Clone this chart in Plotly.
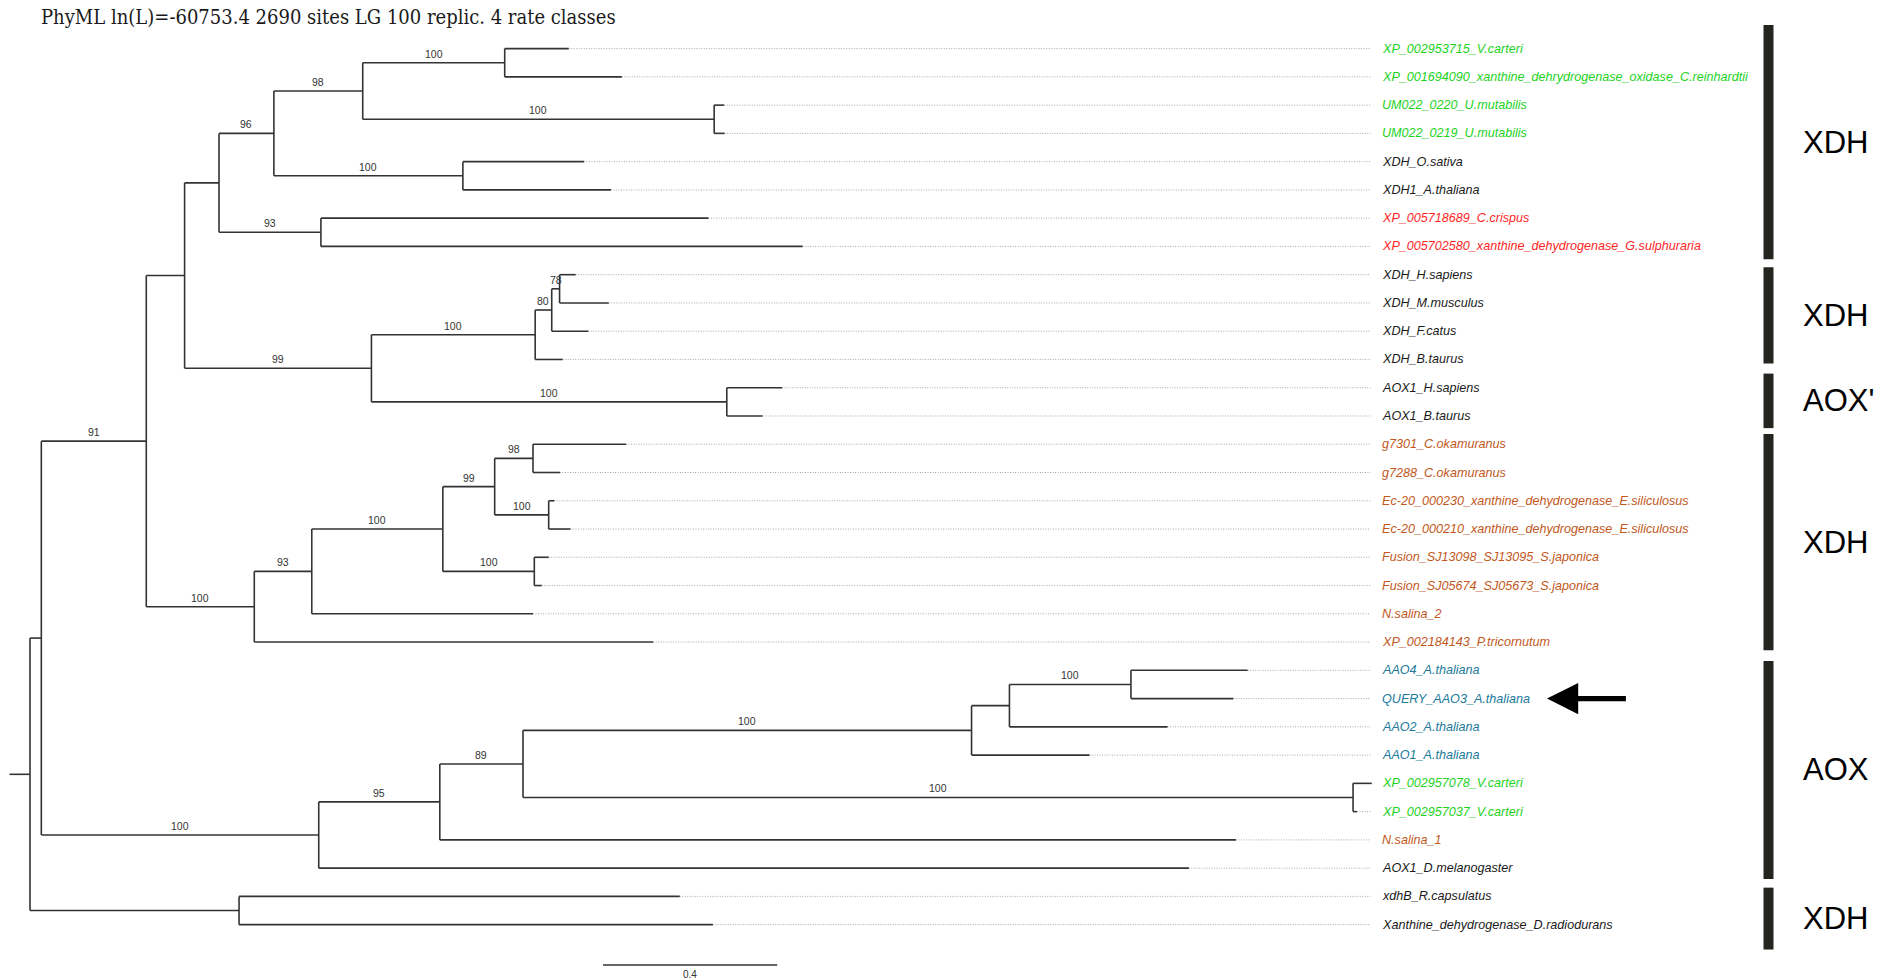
import plotly.graph_objects as go

# ---------------- data ----------------
title_text = "PhyML ln(L)=-60753.4 2690 sites LG 100 replic. 4 rate classes"

taxa = [
    "XP_002953715_V.carteri",
    "XP_001694090_xanthine_dehrydrogenase_oxidase_C.reinhardtii",
    "UM022_0220_U.mutabilis",
    "UM022_0219_U.mutabilis",
    "XDH_O.sativa",
    "XDH1_A.thaliana",
    "XP_005718689_C.crispus",
    "XP_005702580_xanthine_dehydrogenase_G.sulphuraria",
    "XDH_H.sapiens",
    "XDH_M.musculus",
    "XDH_F.catus",
    "XDH_B.taurus",
    "AOX1_H.sapiens",
    "AOX1_B.taurus",
    "g7301_C.okamuranus",
    "g7288_C.okamuranus",
    "Ec-20_000230_xanthine_dehydrogenase_E.siliculosus",
    "Ec-20_000210_xanthine_dehydrogenase_E.siliculosus",
    "Fusion_SJ13098_SJ13095_S.japonica",
    "Fusion_SJ05674_SJ05673_S.japonica",
    "N.salina_2",
    "XP_002184143_P.tricornutum",
    "AAO4_A.thaliana",
    "QUERY_AAO3_A.thaliana",
    "AAO2_A.thaliana",
    "AAO1_A.thaliana",
    "XP_002957078_V.carteri",
    "XP_002957037_V.carteri",
    "N.salina_1",
    "AOX1_D.melanogaster",
    "xdhB_R.capsulatus",
    "Xanthine_dehydrogenase_D.radiodurans",
]
taxon_group = [
    "chlorophyte", "chlorophyte", "chlorophyte", "chlorophyte",
    "other", "other", "rhodophyte", "rhodophyte",
    "other", "other", "other", "other", "other", "other",
    "stramenopile", "stramenopile", "stramenopile", "stramenopile",
    "stramenopile", "stramenopile", "stramenopile", "stramenopile",
    "arabidopsis_aao", "arabidopsis_aao", "arabidopsis_aao", "arabidopsis_aao",
    "chlorophyte", "chlorophyte", "stramenopile", "other", "other", "other",
]
taxon_parent = [
    "n7", "n7", "n8", "n8", "n9", "n9", "n10", "n10",
    "n14", "n14", "n13", "n12", "n15", "n15",
    "n20", "n20", "n21", "n21", "n22", "n22", "n17", "n16",
    "n28", "n28", "n27", "n26", "n29", "n29", "n24", "n23", "n30", "n30",
]
taxon_length = [
    0.147, 0.269, 0.023, 0.024, 0.278, 0.340, 0.890, 1.106,
    0.037, 0.113, 0.084, 0.063, 0.127, 0.082,
    0.214, 0.062, 0.013, 0.050, 0.033, 0.017, 0.508, 0.916,
    0.268, 0.235, 0.363, 0.271, 0.043, 0.009, 1.828, 1.998, 1.012, 1.088,
]

node_names = ["root", "n1", "n2", "n3", "n4", "n5", "n6", "n7", "n8", "n9", "n10",
              "n11", "n12", "n13", "n14", "n15", "n16", "n17", "n18", "n19", "n20",
              "n21", "n22", "n23", "n24", "n25", "n26", "n27", "n28", "n29", "n30"]
node_parent = [None, "root", "n1", "n2", "n3", "n4", "n5", "n6", "n6", "n5", "n4",
               "n3", "n11", "n12", "n13", "n11", "n2", "n16", "n17", "n18", "n19",
               "n19", "n18", "n1", "n23", "n24", "n25", "n26", "n27", "n25", "root"]
node_length = [0.047, 0.026, 0.241, 0.088, 0.079, 0.126, 0.204, 0.326, 0.807, 0.434, 0.234,
               0.429, 0.376, 0.038, 0.018, 0.816, 0.248, 0.132, 0.301, 0.119, 0.088,
               0.124, 0.210, 0.637, 0.278, 0.191, 1.030, 0.087, 0.279, 1.906, 0.480]
node_support = [None, None, 91, None, None, 96, 98, 100, 100, 100, 93,
                99, 100, 80, 78, 100, 100, 93, 100, 99, 98,
                100, 100, 100, 95, 89, 100, None, 100, 100, None]

clade_labels = ["XDH", "XDH", "AOX'", "XDH", "AOX", "XDH"]
clade_first = [0, 8, 12, 14, 22, 30]
clade_last = [7, 11, 13, 21, 29, 31]

query_taxon = "QUERY_AAO3_A.thaliana"
scale_length = 0.4

# ---------------- styles / layout constants ----------------
W, H = 1887, 980
PX_PER_UNIT = 435.5
ROOT_PX = 30.0
LEAF0_PX = 48.6
LEAF_STEP = 28.26

group_colors = {
    "chlorophyte": "#1ed21e",
    "rhodophyte": "#ff1f1f",
    "stramenopile": "#c2581c",
    "arabidopsis_aao": "#20799a",
    "other": "#1a1a1a",
}
branch_color = "#333333"


def px_to_u(px):
    return (px - ROOT_PX) / PX_PER_UNIT


def pxy_to_i(py):
    return (py - LEAF0_PX) / LEAF_STEP


x_range = [px_to_u(0), px_to_u(W)]
y_range = [pxy_to_i(H), pxy_to_i(0)]

# ---------------- tree geometry ----------------
children = {n: [] for n in node_names}
for n, p in zip(node_names, node_parent):
    if p is not None:
        children[p].append(("node", n))
for i, p in enumerate(taxon_parent):
    children[p].append(("leaf", i))

node_len = dict(zip(node_names, node_length))
node_sup = dict(zip(node_names, node_support))
depth = {}
ypos = {}
leaf_depth = [0.0] * len(taxa)


def walk(name, d):
    depth[name] = d
    ys = []
    for kind, c in children[name]:
        if kind == "node":
            walk(c, d + node_len[c])
            ys.append(ypos[c])
        else:
            leaf_depth[c] = d + taxon_length[c]
            ys.append(float(c))
    ypos[name] = sum(ys) / len(ys)


walk("root", 0.0)

bx, by = [], []
# root stub
bx += [-node_len["root"], 0.0, None]
by += [ypos["root"], ypos["root"], None]
for n, p in zip(node_names, node_parent):
    if p is not None:
        bx += [depth[p], depth[n], None]
        by += [ypos[n], ypos[n], None]
    cy = [ypos[c] if k == "node" else float(c) for k, c in children[n]]
    bx += [depth[n], depth[n], None]
    by += [min(cy), max(cy), None]
for i, p in enumerate(taxon_parent):
    bx += [depth[p], leaf_depth[i], None]
    by += [i, i, None]

lead_end = px_to_u(1370.5)
label_x = px_to_u(1379.5)
lx, ly = [], []
for i in range(len(taxa)):
    if leaf_depth[i] < lead_end:
        lx += [leaf_depth[i], lead_end, None]
        ly += [i, i, None]

fig = go.Figure()
fig.add_trace(go.Scatter(x=lx, y=ly, mode="lines", hoverinfo="skip",
                         line=dict(color="#a8a8a8", width=1, dash="1px,1.5px")))
fig.add_trace(go.Scatter(x=bx, y=by, mode="lines", hoverinfo="skip",
                         line=dict(color=branch_color, width=1.6)))

# scale bar
sb_x0 = px_to_u(603)
sb_y = pxy_to_i(965)
fig.add_trace(go.Scatter(x=[sb_x0, sb_x0 + scale_length], y=[sb_y, sb_y], mode="lines",
                         hoverinfo="skip", line=dict(color=branch_color, width=1.5)))

annotations = []
# bootstrap values
for n, p in zip(node_names, node_parent):
    s = node_sup[n]
    if s is None or p is None:
        continue
    annotations.append(dict(
        x=(depth[p] + depth[n]) / 2, y=ypos[n], xref="x", yref="y",
        text=str(s), showarrow=False, xanchor="center", yanchor="bottom", yshift=1,
        font=dict(family="Liberation Sans, Arial, sans-serif", size=10.5, color="#333333")))

# leaf labels
for i, name in enumerate(taxa):
    annotations.append(dict(
        x=label_x, y=i, xref="x", yref="y", text="<i>" + name + "</i>",
        showarrow=False, xanchor="left", yanchor="middle",
        font=dict(family="Liberation Sans, Arial, sans-serif", size=12.6, style="italic",
                  color=group_colors[taxon_group[i]])))

# scale label
annotations.append(dict(
    x=sb_x0 + scale_length / 2, y=sb_y, xref="x", yref="y", text=str(scale_length),
    showarrow=False, xanchor="center", yanchor="top", yshift=-2,
    font=dict(family="Liberation Sans, Arial, sans-serif", size=10, color="#333333")))

# title
annotations.append(dict(
    x=39 / W, y=1 - 17 / H, xref="paper", yref="paper", text=title_text,
    showarrow=False, xanchor="left", yanchor="middle",
    font=dict(family="DejaVu Serif Condensed, Liberation Serif, serif", size=20, color="#1a1a1a")))

# arrow pointing at query
qi = taxa.index(query_taxon)
arrow_w = 5.2
annotations.append(dict(
    x=px_to_u(1547), y=qi, ax=px_to_u(1627.4), ay=qi,
    xref="x", yref="y", axref="x", ayref="y", text="", showarrow=True,
    arrowhead=2, arrowsize=1.2, arrowwidth=arrow_w, arrowcolor="#000000", standoff=0))

# clade bars and labels
pad_top = [0.835, 0.26, 0.5, 0.36, 0.33, 0.31]
pad_bot = [0.456, 0.146, 0.43, 0.29, 0.38, 0.88]
shapes = []
for k, lab in enumerate(clade_labels):
    y0 = clade_first[k] - pad_top[k]
    y1 = clade_last[k] + pad_bot[k]
    shapes.append(dict(type="rect", xref="paper", yref="y",
                       x0=1763.5 / W, x1=1773.5 / W, y0=y0, y1=y1,
                       fillcolor="#22261f", line=dict(width=0)))
    annotations.append(dict(
        x=1801 / W, y=(y0 + y1) / 2, xref="paper", yref="y", text=lab,
        showarrow=False, xanchor="left", yanchor="middle",
        font=dict(family="Liberation Sans, Arial, sans-serif", size=31, color="#000000")))

fig.update_layout(
    width=W, height=H, autosize=False,
    margin=dict(l=0, r=0, t=0, b=0),
    paper_bgcolor="white", plot_bgcolor="white",
    showlegend=False,
    xaxis=dict(range=x_range, visible=False, fixedrange=True),
    yaxis=dict(range=y_range, visible=False, fixedrange=True),
    annotations=annotations, shapes=shapes,
)

fig.write_html("out.html", config={"displayModeBar": False},
               post_script="document.body.style.margin='0';document.body.style.overflow='hidden';")
